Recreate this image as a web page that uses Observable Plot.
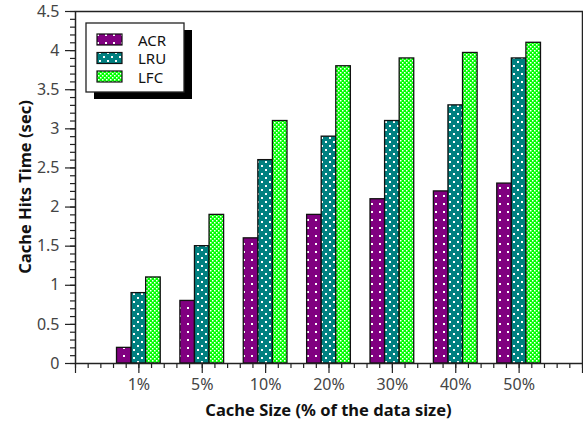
<!DOCTYPE html>
<html>
<head>
<meta charset="utf-8">
<script src="https://cdn.jsdelivr.net/npm/d3@7"></script>
<script src="https://cdn.jsdelivr.net/npm/@observablehq/plot@0.6"></script>
<style>
  html, body { margin: 0; padding: 0; background: #fff; }
  #chart { width: 583px; height: 421px; }
</style>
</head>
<body>
<div id="chart"></div>
<script>
const categories = ["1%", "5%", "10%", "20%", "30%", "40%", "50%"];
const seriesNames = ["ACR", "LRU", "LFC"];
const acr = [0.2, 0.8, 1.6, 1.9, 2.1, 2.2, 2.3];
const lru = [0.9, 1.5, 2.6, 2.9, 3.1, 3.3, 3.9];
const lfc = [1.1, 1.9, 3.1, 3.8, 3.9, 3.97, 4.1];
const yMajorTicks = [0, 0.5, 1, 1.5, 2, 2.5, 3, 3.5, 4, 4.5];

const seriesValues = [acr, lru, lfc];
const patternIds = ["pACR", "pLRU", "pLFC"];
const barW = 0.23;

const rows = [];
seriesNames.forEach((s, si) => {
  categories.forEach((c, ci) => {
    const center = ci + 1;
    rows.push({
      series: s,
      si,
      x1: center + (si - 1.5) * barW,
      x2: center + (si - 0.5) * barW,
      value: seriesValues[si][ci]
    });
  });
});

const W = 583, H = 421;
const mL = 75, mT = 11, mR = 1, mB = 58;
const FONT = "'Noto Sans', 'Open Sans', sans-serif";

const plot = Plot.plot({
  width: W,
  height: H,
  marginLeft: mL,
  marginTop: mT,
  marginRight: mR,
  marginBottom: mB,
  style: { fontSize: "16px", fontFamily: FONT, color: "#222", background: "#fff" },
  x: { type: "linear", domain: [0, 8] },
  y: { domain: [0, 4.5] },
  marks: [
    ...seriesNames.map((s, si) =>
      Plot.rectY(rows.filter(d => d.si === si), {
        x1: "x1", x2: "x2", y1: 0, y2: "value",
        fill: `url(#${patternIds[si]})`,
        stroke: "#111",
        strokeWidth: 1.3
      })
    ),
    Plot.axisY({ ticks: d3.range(0, 46).map(i => i / 10), tickSize: 5, text: null, label: null, stroke: "#222", strokeWidth: 1.2 }),
    Plot.axisY({ ticks: yMajorTicks, tickSize: 10, tickPadding: 6, tickFormat: d => String(d), label: null, fill: "#444", stroke: "#222", strokeWidth: 1.2, fontSize: 16 }),
    Plot.axisX({ ticks: d3.range(0, 41).map(i => i / 5), tickSize: 5, text: null, label: null, stroke: "#222", strokeWidth: 1.2 }),
    Plot.axisX({ ticks: d3.range(0, 9), tickSize: 10, tickPadding: 5, tickFormat: i => categories[i - 1] ?? "", label: null, fill: "#444", stroke: "#222", strokeWidth: 1.2, fontSize: 16 }),
    Plot.frame({ stroke: "#222", strokeWidth: 1.5 })
  ]
});

const svg = d3.select(plot);
const defs = svg.insert("defs", ":first-child");

// ACR pattern: purple with sparse white dots
const pA = defs.append("pattern").attr("id", "pACR").attr("patternUnits", "userSpaceOnUse")
  .attr("width", 8).attr("height", 8);
pA.append("rect").attr("width", 8).attr("height", 8).attr("fill", "#800080");
pA.append("rect").attr("x", 3).attr("y", 3).attr("width", 2).attr("height", 2).attr("fill", "#fff");

// LRU pattern: teal with staggered white dots
const pL = defs.append("pattern").attr("id", "pLRU").attr("patternUnits", "userSpaceOnUse")
  .attr("width", 8).attr("height", 8);
pL.append("rect").attr("width", 8).attr("height", 8).attr("fill", "#008080");
pL.append("rect").attr("x", 1).attr("y", 1).attr("width", 2).attr("height", 2).attr("fill", "#fff");
pL.append("rect").attr("x", 5).attr("y", 5).attr("width", 2).attr("height", 2).attr("fill", "#fff");

// LFC pattern: bright green with dense white checker
const pF = defs.append("pattern").attr("id", "pLFC").attr("patternUnits", "userSpaceOnUse")
  .attr("width", 4).attr("height", 4);
pF.append("rect").attr("width", 4).attr("height", 4).attr("fill", "#00ff00");
pF.append("rect").attr("x", 0).attr("y", 0).attr("width", 1.5).attr("height", 1.5).attr("fill", "#fff");
pF.append("rect").attr("x", 2).attr("y", 2).attr("width", 1.5).attr("height", 1.5).attr("fill", "#fff");

// Axis titles
svg.append("text")
  .attr("transform", `translate(24,${(mT + (H - mB)) / 2}) rotate(-90)`)
  .attr("text-anchor", "middle")
  .attr("dominant-baseline", "central")
  .attr("font-family", FONT)
  .attr("font-weight", "bold")
  .attr("font-size", 16.5)
  .attr("fill", "#111")
  .text("Cache Hits Time (sec)");

svg.append("text")
  .attr("x", (mL + (W - mR)) / 2)
  .attr("y", 409)
  .attr("text-anchor", "middle")
  .attr("dominant-baseline", "central")
  .attr("font-family", FONT)
  .attr("font-weight", "bold")
  .attr("font-size", 16.5)
  .attr("fill", "#111")
  .text("Cache Size (% of the data size)");

// Legend
const lg = svg.append("g").attr("transform", "translate(86,23)");
lg.append("rect").attr("x", 8).attr("y", 7).attr("width", 98).attr("height", 69).attr("fill", "#000");
lg.append("rect").attr("x", 0).attr("y", 0).attr("width", 98).attr("height", 69)
  .attr("fill", "#fff").attr("stroke", "#222").attr("stroke-width", 1.3);
seriesNames.forEach((s, si) => {
  const yy = 11 + si * 18.5;
  lg.append("rect").attr("x", 11).attr("y", yy).attr("width", 25).attr("height", 11)
    .attr("fill", `url(#${patternIds[si]})`).attr("stroke", "#111").attr("stroke-width", 1.2);
  lg.append("text").attr("x", 52).attr("y", yy + 5.5)
    .attr("text-anchor", "start")
    .attr("dominant-baseline", "central")
    .attr("font-family", FONT)
    .attr("font-size", 15)
    .attr("fill", "#111")
    .text(s);
});

document.getElementById("chart").appendChild(plot);
</script>
</body>
</html>
